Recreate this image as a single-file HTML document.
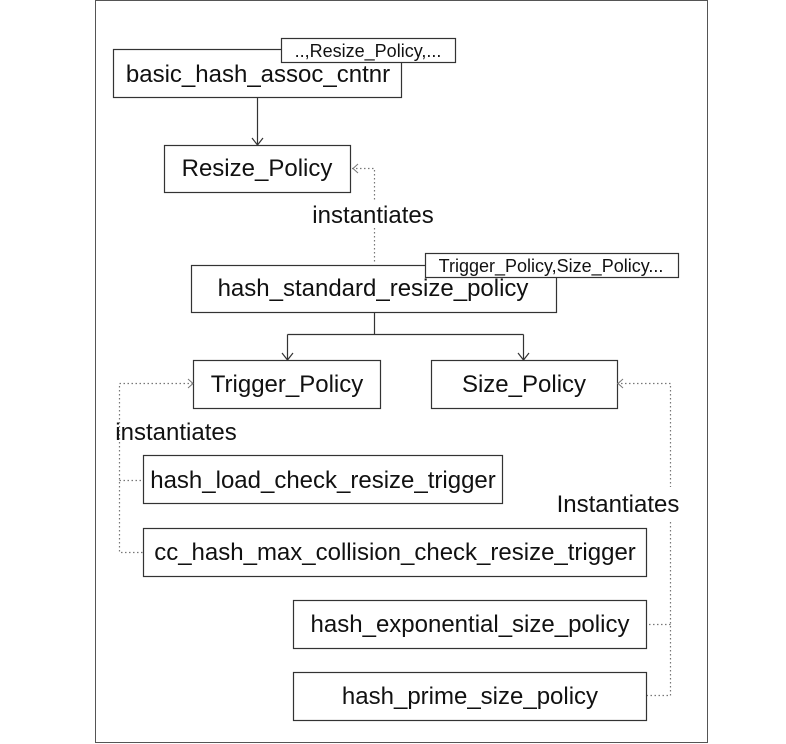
<!DOCTYPE html>
<html><head><meta charset="utf-8"><style>
body{margin:0;background:#fff;}
svg{display:block;font-family:"Liberation Sans",Arial,sans-serif;}
</style></head><body>
<svg width="786" height="744" viewBox="0 0 786 744" xmlns="http://www.w3.org/2000/svg">
<rect x="95.5" y="0.5" width="612" height="742" fill="none" stroke="#555" stroke-width="1"/>
<g fill="#fff" stroke="#333" stroke-width="1.2">
<rect x="113.5" y="49.5" width="288" height="48"/>
<rect x="164.5" y="145.5" width="186" height="47"/>
<rect x="191.5" y="265.5" width="365" height="47"/>
<rect x="193.5" y="360.5" width="187" height="48"/>
<rect x="431.5" y="360.5" width="186" height="48"/>
<rect x="143.5" y="455.5" width="359" height="48"/>
<rect x="143.5" y="528.5" width="503" height="48"/>
<rect x="293.5" y="600.5" width="353" height="48"/>
<rect x="293.5" y="672.5" width="353" height="48"/>
<rect x="281.5" y="38.5" width="174" height="24"/>
<rect x="425.5" y="253.5" width="253" height="24"/>
</g>
<g fill="none" stroke="#333" stroke-width="1.2">
<path d="M257.5 97V145M252 138l5.5 7 5.5-7"/>
<path d="M374.5 312V334.5M287.5 334.5H523.5M287.5 334.5V360M523.5 334.5V360M282 353l5.5 7 5.5-7M518 353l5.5 7 5.5-7"/>
</g>
<g fill="none" stroke="#777" stroke-width="1.2" stroke-dasharray="1.5 2.5">
<path d="M352 168.5H374.5V200M374.5 228V264"/>
<path d="M193 383.5H119.5V552.5H143M119.5 480.5H143"/>
<path d="M617 383.5H670.5V487M670.5 522V695.5H647M670.5 624.5H647"/>
</g>
<g fill="none" stroke="#777" stroke-width="1">
<path d="M358 164l-5 4.5 5 4.5"/>
<path d="M188 379l5 4.5-5 4.5"/>
<path d="M623 379l-5 4.5 5 4.5"/>
</g>
<g fill="#111" font-size="24" text-anchor="middle">
<text x="258" y="82">basic_hash_assoc_cntnr</text>
<text x="257" y="176">Resize_Policy</text>
<text x="373" y="223">instantiates</text>
<text x="373" y="296">hash_standard_resize_policy</text>
<text x="287" y="392">Trigger_Policy</text>
<text x="524" y="392">Size_Policy</text>
<text x="176" y="440">instantiates</text>
<text x="323" y="488">hash_load_check_resize_trigger</text>
<text x="395" y="560">cc_hash_max_collision_check_resize_trigger</text>
<text x="618" y="512">Instantiates</text>
<text x="470" y="632">hash_exponential_size_policy</text>
<text x="470" y="704">hash_prime_size_policy</text>
</g>
<g fill="#111" font-size="18" text-anchor="middle">
<text x="368" y="57">..,Resize_Policy,...</text>
<text x="551" y="272">Trigger_Policy,Size_Policy...</text>
</g>
</svg>
</body></html>
